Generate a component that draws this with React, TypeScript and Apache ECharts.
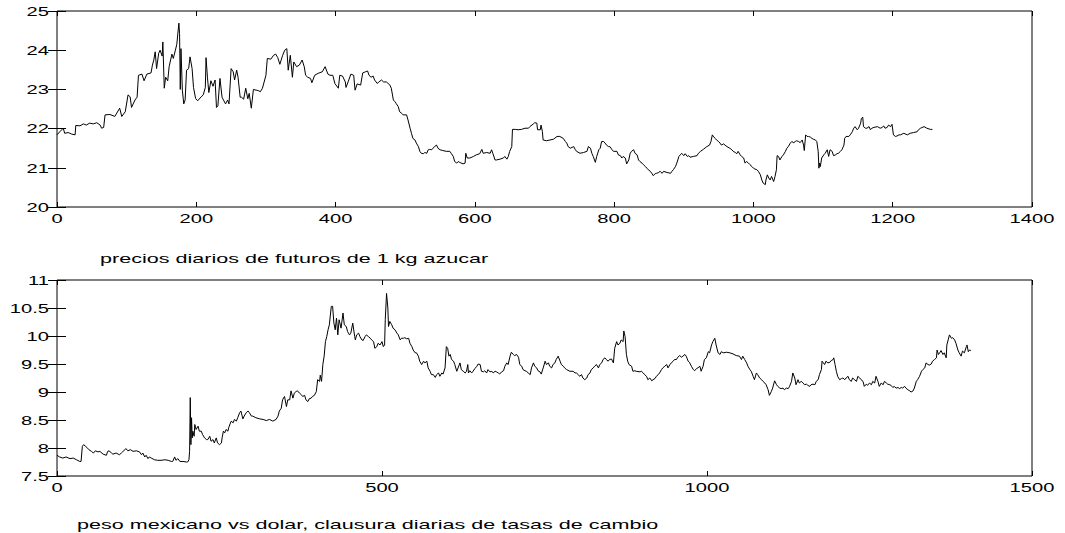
import React, { useEffect, useRef } from "react";
import * as echarts from "echarts";

// Daily sugar futures price (1 kg), by trading day
const sugarDays = [
  0, 4, 9, 11, 16, 21, 26, 27, 33, 38, 42, 47, 52, 57, 62, 64, 67, 69, 76, 83, 90, 93, 98, 102, 105, 107, 112, 115, 117, 122,
  125, 129, 135, 137, 139, 141, 143, 146, 148, 151, 152, 154, 156, 159, 161, 165, 167, 170, 172, 175, 176, 177, 178, 180, 182,
  184, 186, 189, 191, 194, 196, 199, 202, 207, 210, 213, 214, 216, 218, 221, 224, 227, 229, 231, 234, 237, 239, 242, 245, 247,
  250, 253, 255, 258, 260, 263, 265, 268, 271, 274, 276, 279, 282, 286, 289, 292, 295, 300, 302, 307, 311, 314, 317, 320, 324,
  327, 330, 332, 335, 338, 340, 344, 348, 352, 355, 357, 360, 364, 366, 370, 375, 381, 385, 389, 392, 396, 399, 404, 406, 410,
  414, 415, 418, 422, 426, 428, 431, 436, 439, 443, 446, 448, 451, 454, 456, 460, 462, 466, 469, 473, 478, 480, 483, 485, 487,
  490, 492, 495, 497, 502, 504, 507, 509, 511, 514, 516, 519, 521, 523, 526, 528, 531, 533, 535, 538, 540, 542, 545, 547, 550,
  554, 559, 564, 566, 569, 571, 574, 576, 578, 583, 586, 587, 589, 593, 598, 602, 607, 610, 612, 617, 622, 624, 626, 629, 631,
  636, 641, 643, 646, 648, 650, 653, 654, 658, 662, 667, 672, 677, 679, 684, 686, 689, 690, 694, 695, 697, 698, 703, 708, 713,
  718, 722, 727, 730, 732, 734, 737, 742, 744, 746, 751, 756, 761, 763, 766, 768, 770, 773, 775, 778, 780, 782, 785, 787, 789,
  792, 794, 797, 799, 804, 806, 809, 811, 813, 816, 818, 821, 823, 825, 828, 830, 833, 835, 837, 840, 842, 845, 847, 849, 852,
  854, 856, 859, 861, 864, 866, 869, 871, 876, 881, 883, 885, 888, 890, 893, 895, 897, 900, 902, 905, 907, 909, 914, 919, 921,
  924, 928, 933, 937, 939, 941, 942, 945, 947, 950, 952, 954, 957, 962, 966, 969, 971, 974, 976, 978, 981, 983, 986, 988, 990,
  993, 995, 998, 1000, 1002, 1005, 1007, 1010, 1012, 1014, 1017, 1018, 1020, 1022, 1024, 1026, 1029, 1031, 1033, 1034, 1036,
  1038, 1041, 1043, 1046, 1048, 1050, 1053, 1055, 1058, 1060, 1062, 1065, 1067, 1070, 1072, 1073, 1075, 1077, 1079, 1082, 1084,
  1086, 1089, 1091, 1093, 1094, 1095, 1096, 1098, 1101, 1103, 1106, 1108, 1110, 1113, 1115, 1118, 1120, 1122, 1125, 1127, 1130,
  1131, 1133, 1137, 1139, 1142, 1144, 1146, 1149, 1151, 1154, 1155, 1157, 1158, 1161, 1163, 1166, 1168, 1170, 1173, 1178, 1182,
  1185, 1187, 1189, 1192, 1194, 1197, 1199, 1201, 1204, 1206, 1209, 1211, 1216, 1221, 1225, 1230, 1235, 1237, 1240, 1245, 1249,
  1254, 1257,
];
const sugarPrices = [
  21.84, 21.92, 22.01, 21.88, 21.9, 21.86, 21.84, 22.08, 22.07, 22.12, 22.09, 22.14, 22.12, 22.15, 22.09, 22.01, 22.03, 22.35,
  22.36, 22.31, 22.52, 22.31, 22.43, 22.86, 22.81, 22.54, 22.73, 22.8, 23.36, 23.39, 23.22, 23.39, 23.42, 23.62, 23.75, 23.96,
  23.53, 23.92, 24.0, 23.85, 24.21, 23.03, 23.31, 23.22, 23.58, 23.9, 23.79, 24.0, 24.15, 24.69, 24.42, 23.0, 24.04, 22.98,
  22.63, 22.73, 23.49, 23.53, 23.83, 23.53, 23.05, 22.77, 22.71, 22.81, 22.86, 23.05, 23.81, 23.31, 22.92, 23.22, 23.08, 23.24,
  22.54, 22.58, 23.28, 22.8, 22.73, 22.63, 22.73, 22.63, 23.53, 23.45, 23.24, 23.49, 23.31, 22.8, 22.8, 22.75, 23.03, 22.76,
  22.9, 22.52, 23.0, 22.98, 22.97, 22.94, 23.03, 23.36, 23.79, 23.77, 23.87, 23.9, 23.81, 23.64, 23.87, 24.0, 24.04, 23.49,
  23.87, 23.31, 23.7, 23.58, 23.62, 23.75, 23.58, 23.36, 23.31, 23.28, 23.17, 23.36, 23.41, 23.45, 23.58, 23.39, 23.36, 23.36,
  23.15, 23.03, 23.36, 23.34, 23.19, 23.05, 23.19, 23.39, 23.36, 22.98, 23.14, 23.11, 23.42, 23.45, 23.47, 23.36, 23.31, 23.34,
  23.24, 23.15, 23.19, 23.24, 23.19, 23.19, 23.11, 23.03, 22.73, 22.69, 22.64, 22.56, 22.43, 22.39, 22.35, 22.35, 22.22, 22.01,
  21.88, 21.75, 21.71, 21.63, 21.54, 21.42, 21.37, 21.36, 21.39, 21.37, 21.46, 21.47, 21.46, 21.5, 21.54, 21.58, 21.5, 21.46,
  21.44, 21.42, 21.42, 21.37, 21.29, 21.16, 21.12, 21.16, 21.14, 21.1, 21.12, 21.37, 21.25, 21.25, 21.29, 21.33, 21.36, 21.47,
  21.37, 21.39, 21.37, 21.46, 21.36, 21.2, 21.2, 21.22, 21.25, 21.29, 21.22, 21.29, 21.42, 21.54, 21.98, 21.98, 21.97, 21.98,
  22.01, 22.01, 22.05, 22.12, 22.15, 22.14, 21.97, 21.97, 22.09, 21.92, 21.71, 21.69, 21.71, 21.73, 21.8, 21.8, 21.75, 21.67,
  21.63, 21.54, 21.5, 21.54, 21.47, 21.42, 21.37, 21.39, 21.42, 21.54, 21.5, 21.37, 21.29, 21.14, 21.29, 21.46, 21.5, 21.67,
  21.67, 21.63, 21.58, 21.54, 21.54, 21.46, 21.42, 21.42, 21.33, 21.31, 21.25, 21.29, 21.25, 21.1, 21.2, 21.37, 21.42, 21.46,
  21.37, 21.33, 21.2, 21.16, 21.12, 21.08, 21.03, 20.99, 20.95, 20.91, 20.86, 20.8, 20.85, 20.86, 20.88, 20.91, 20.86, 20.91,
  20.88, 20.86, 20.91, 20.95, 21.03, 21.12, 21.29, 21.33, 21.37, 21.31, 21.36, 21.29, 21.31, 21.27, 21.29, 21.31, 21.37, 21.42,
  21.47, 21.54, 21.58, 21.67, 21.84, 21.81, 21.75, 21.71, 21.67, 21.63, 21.58, 21.61, 21.54, 21.5, 21.46, 21.42, 21.39, 21.36,
  21.42, 21.33, 21.29, 21.25, 21.12, 21.16, 21.12, 21.08, 21.03, 20.99, 20.97, 20.95, 20.91, 20.82, 20.69, 20.61, 20.57, 20.69,
  20.82, 20.74, 20.69, 20.78, 20.65, 20.78, 20.95, 21.31, 21.29, 21.2, 21.29, 21.33, 21.42, 21.5, 21.54, 21.63, 21.67, 21.64,
  21.67, 21.69, 21.67, 21.64, 21.71, 21.58, 21.44, 21.84, 21.8, 21.8, 21.78, 21.75, 21.73, 21.71, 21.67, 21.42, 20.99, 21.12,
  21.03, 21.25, 21.33, 21.37, 21.46, 21.29, 21.46, 21.42, 21.31, 21.33, 21.36, 21.37, 21.42, 21.46, 21.58, 21.75, 21.8, 21.8,
  21.84, 21.92, 22.01, 22.05, 21.97, 22.01, 22.14, 22.26, 22.29, 22.05, 22.01, 22.01, 22.05, 21.97, 22.01, 22.03, 22.05, 22.01,
  22.03, 22.07, 22.01, 22.03, 22.09, 22.05, 22.11, 21.84, 21.8, 21.81, 21.84, 21.84, 21.88, 21.84, 21.88, 21.9, 21.92, 21.97,
  22.01, 22.05, 22.01, 21.98, 21.98,
];

// Daily closing exchange rate, Mexican peso per US dollar
const pesoDays = [
  0, 4, 9, 14, 20, 25, 30, 35, 37, 39, 41, 44, 46, 49, 53, 56, 59, 63, 66, 71, 76, 78, 80, 84, 86, 91, 96, 99, 101, 106, 109,
  113, 117, 122, 127, 130, 132, 135, 137, 140, 142, 145, 150, 155, 160, 166, 171, 176, 178, 181, 183, 186, 189, 194, 199, 201,
  203, 204, 205, 206, 207, 208, 209, 211, 212, 214, 217, 219, 222, 224, 227, 230, 232, 235, 237, 240, 242, 245, 247, 250, 253,
  254, 256, 258, 260, 263, 264, 268, 271, 273, 276, 278, 281, 283, 286, 288, 291, 294, 296, 299, 301, 306, 312, 317, 322, 327,
  332, 337, 340, 342, 345, 347, 350, 353, 355, 358, 360, 363, 365, 368, 370, 373, 376, 378, 381, 383, 386, 388, 391, 393, 396,
  399, 401, 404, 405, 407, 409, 411, 413, 415, 417, 419, 422, 424, 426, 428, 430, 432, 434, 437, 440, 442, 445, 447, 450, 452,
  455, 458, 459, 461, 464, 466, 469, 471, 474, 476, 479, 482, 484, 487, 489, 492, 494, 497, 500, 502, 504, 505, 507, 509, 510,
  512, 515, 517, 520, 523, 525, 528, 530, 533, 535, 538, 541, 543, 546, 548, 551, 553, 556, 558, 561, 564, 566, 569, 571, 574,
  576, 579, 582, 584, 587, 589, 592, 594, 597, 599, 601, 603, 605, 607, 610, 612, 615, 617, 620, 622, 625, 628, 630, 632, 633,
  635, 638, 640, 643, 646, 648, 651, 653, 656, 658, 661, 663, 666, 669, 671, 674, 676, 679, 681, 684, 687, 689, 692, 694, 697,
  699, 702, 704, 707, 710, 712, 715, 717, 720, 722, 725, 728, 730, 733, 735, 738, 740, 743, 745, 748, 751, 753, 756, 758, 761,
  763, 766, 768, 771, 774, 776, 779, 781, 784, 789, 794, 797, 799, 802, 804, 807, 809, 812, 815, 817, 820, 822, 825, 827, 830,
  833, 835, 838, 840, 843, 845, 848, 850, 853, 856, 858, 861, 863, 866, 868, 871, 872, 874, 876, 878, 880, 884, 886, 889, 891,
  897, 899, 902, 904, 907, 909, 912, 915, 917, 920, 922, 925, 927, 930, 932, 935, 938, 940, 943, 945, 948, 950, 953, 955, 958,
  961, 963, 966, 968, 971, 973, 976, 979, 981, 984, 986, 989, 991, 994, 996, 999, 1002, 1004, 1007, 1009, 1012, 1014, 1017,
  1020, 1022, 1025, 1030, 1035, 1040, 1045, 1050, 1053, 1055, 1058, 1061, 1063, 1066, 1068, 1071, 1073, 1076, 1078, 1081, 1084,
  1086, 1089, 1091, 1094, 1096, 1099, 1101, 1104, 1107, 1109, 1112, 1114, 1117, 1119, 1122, 1125, 1127, 1130, 1132, 1135, 1137,
  1140, 1142, 1145, 1148, 1150, 1153, 1155, 1158, 1160, 1163, 1166, 1168, 1171, 1173, 1176, 1177, 1179, 1181, 1183, 1186, 1189,
  1191, 1194, 1195, 1197, 1199, 1201, 1204, 1207, 1209, 1212, 1214, 1217, 1219, 1222, 1224, 1227, 1230, 1232, 1235, 1237, 1240,
  1242, 1245, 1247, 1250, 1253, 1255, 1258, 1260, 1263, 1265, 1268, 1271, 1273, 1276, 1278, 1281, 1283, 1286, 1288, 1291, 1294,
  1296, 1299, 1301, 1304, 1306, 1309, 1312, 1314, 1317, 1319, 1322, 1324, 1327, 1330, 1332, 1335, 1337, 1340, 1342, 1345, 1347,
  1350, 1353, 1354, 1356, 1358, 1360, 1363, 1365, 1368, 1369, 1371, 1373, 1376, 1378, 1381, 1383, 1386, 1388, 1391, 1393, 1396,
  1399, 1400, 1402, 1404, 1406,
];
const pesoRates = [
  7.87, 7.84, 7.82, 7.84, 7.81, 7.82, 7.79, 7.76, 7.76, 8.03, 8.06, 8.03, 8.01, 7.97, 7.94, 7.91, 7.95, 7.93, 7.94, 7.89, 7.87,
  7.94, 7.95, 7.91, 7.89, 7.91, 7.88, 7.91, 7.93, 7.99, 7.95, 7.97, 7.94, 7.95, 7.93, 7.88, 7.91, 7.84, 7.87, 7.81, 7.84, 7.82,
  7.79, 7.78, 7.78, 7.79, 7.78, 7.76, 7.76, 7.84, 7.78, 7.81, 7.76, 7.76, 7.75, 7.75, 7.79, 7.94, 8.9, 8.06, 8.54, 8.18, 8.3,
  8.21, 8.42, 8.33, 8.39, 8.3, 8.3, 8.24, 8.18, 8.15, 8.15, 8.21, 8.12, 8.15, 8.09, 8.18, 8.09, 8.06, 8.09, 8.18, 8.3, 8.27,
  8.33, 8.3, 8.36, 8.48, 8.45, 8.51, 8.48, 8.54, 8.63, 8.66, 8.52, 8.57, 8.63, 8.66, 8.63, 8.57, 8.57, 8.54, 8.52, 8.51, 8.49,
  8.51, 8.48, 8.51, 8.57, 8.66, 8.71, 8.86, 8.92, 8.74, 8.86, 8.86, 9.02, 8.89, 8.98, 9.01, 9.02, 8.98, 8.95, 8.92, 8.94, 8.86,
  8.83, 8.88, 8.89, 8.92, 8.94, 9.01, 9.22, 9.19, 9.3, 9.19, 9.49, 9.64, 9.9, 9.99, 10.11, 10.2, 10.53, 10.53, 10.23, 10.11,
  10.32, 10.02, 10.29, 10.14, 10.41, 10.2, 10.17, 10.08, 10.02, 10.05, 10.23, 9.99, 9.93, 10.02, 10.05, 9.99, 9.93, 9.92, 9.99,
  10.02, 9.99, 9.96, 9.93, 9.9, 9.78, 9.81, 9.87, 9.84, 9.9, 9.81, 9.84, 10.29, 10.76, 10.5, 10.17, 10.26, 10.2, 10.14, 10.11,
  10.05, 10.02, 9.93, 9.96, 9.96, 9.97, 9.95, 9.96, 9.87, 9.81, 9.75, 9.7, 9.7, 9.64, 9.55, 9.49, 9.55, 9.52, 9.55, 9.43, 9.37,
  9.31, 9.31, 9.26, 9.31, 9.34, 9.28, 9.34, 9.32, 9.43, 9.81, 9.78, 9.64, 9.67, 9.58, 9.55, 9.49, 9.37, 9.43, 9.52, 9.4, 9.37,
  9.34, 9.37, 9.49, 9.34, 9.38, 9.34, 9.37, 9.42, 9.46, 9.5, 9.49, 9.37, 9.36, 9.38, 9.34, 9.4, 9.36, 9.37, 9.34, 9.37, 9.36,
  9.34, 9.32, 9.36, 9.38, 9.46, 9.52, 9.49, 9.64, 9.71, 9.67, 9.65, 9.67, 9.62, 9.49, 9.46, 9.4, 9.38, 9.37, 9.34, 9.31, 9.43,
  9.52, 9.46, 9.43, 9.38, 9.36, 9.32, 9.43, 9.55, 9.49, 9.52, 9.46, 9.43, 9.49, 9.52, 9.58, 9.64, 9.55, 9.49, 9.46, 9.43, 9.4,
  9.37, 9.37, 9.34, 9.34, 9.31, 9.28, 9.31, 9.25, 9.22, 9.25, 9.31, 9.34, 9.4, 9.43, 9.46, 9.49, 9.43, 9.49, 9.52, 9.58, 9.61,
  9.58, 9.55, 9.58, 9.59, 9.52, 9.78, 9.9, 9.84, 9.87, 9.93, 9.9, 10.09, 9.99, 9.67, 9.55, 9.49, 9.46, 9.37, 9.38, 9.37, 9.36,
  9.37, 9.34, 9.31, 9.28, 9.22, 9.25, 9.2, 9.22, 9.24, 9.28, 9.31, 9.34, 9.4, 9.43, 9.46, 9.49, 9.43, 9.49, 9.52, 9.55, 9.58,
  9.58, 9.62, 9.65, 9.62, 9.64, 9.67, 9.64, 9.55, 9.53, 9.46, 9.4, 9.38, 9.42, 9.43, 9.46, 9.37, 9.46, 9.58, 9.61, 9.72, 9.7,
  9.84, 9.9, 9.96, 9.84, 9.7, 9.67, 9.72, 9.7, 9.71, 9.7, 9.68, 9.65, 9.64, 9.58, 9.64, 9.58, 9.52, 9.46, 9.4, 9.37, 9.28, 9.22,
  9.34, 9.31, 9.25, 9.22, 9.19, 9.16, 9.13, 9.04, 8.94, 9.01, 9.07, 9.2, 9.13, 9.1, 9.07, 9.06, 9.07, 9.04, 9.07, 9.06, 9.1,
  9.19, 9.34, 9.25, 9.13, 9.22, 9.16, 9.19, 9.16, 9.13, 9.14, 9.12, 9.1, 9.13, 9.14, 9.13, 9.19, 9.22, 9.31, 9.4, 9.55, 9.52,
  9.49, 9.55, 9.52, 9.53, 9.56, 9.58, 9.61, 9.49, 9.37, 9.28, 9.22, 9.24, 9.25, 9.22, 9.25, 9.28, 9.22, 9.19, 9.25, 9.22, 9.19,
  9.28, 9.25, 9.22, 9.19, 9.1, 9.14, 9.12, 9.16, 9.13, 9.19, 9.16, 9.28, 9.19, 9.1, 9.16, 9.13, 9.19, 9.16, 9.14, 9.13, 9.12,
  9.08, 9.1, 9.07, 9.08, 9.06, 9.08, 9.07, 9.1, 9.07, 9.04, 9.02, 9.0, 9.02, 9.07, 9.19, 9.22, 9.28, 9.37, 9.4, 9.43, 9.52,
  9.49, 9.48, 9.5, 9.55, 9.58, 9.61, 9.75, 9.67, 9.7, 9.74, 9.67, 9.7, 9.61, 9.84, 9.93, 10.02, 9.96, 9.97, 9.93, 9.87, 9.75,
  9.7, 9.64, 9.73, 9.7, 9.81, 9.84, 9.72, 9.75, 9.74,
];

// Axis tick values
const sugarDayTicks = [0, 200, 400, 600, 800, 1000, 1200, 1400];
const sugarPriceTicks = [20, 21, 22, 23, 24, 25];
const pesoDayTicks = [0, 500, 1000, 1500];
const pesoRateTicks = [7.5, 8, 8.5, 9, 9.5, 10, 10.5, 11];

const sugarCaption = "precios diarios de futuros de 1 kg azucar";
const pesoCaption = "peso mexicano vs dolar, clausura diarias de tasas de cambio";

const FONT = '13px "Liberation Sans", Arial, sans-serif';
const LABEL_STRETCH = 1.55;
const CAPTION_STRETCH = 1.66;

function zip(xs: number[], ys: number[]) {
  return xs.map((x, i) => [x, ys[i]]);
}

function valueAxis(gridIndex: number, position: string, min: number, max: number, interval: number, tickLen: number) {
  return {
    type: "value",
    gridIndex,
    position,
    min,
    max,
    interval,
    axisLine: { show: false },
    axisTick: { show: true, inside: true, length: tickLen, lineStyle: { color: "#000", width: 1 } },
    axisLabel: { show: false },
    splitLine: { show: false },
  };
}

export default function App() {
  const ref = useRef<HTMLDivElement>(null);

  useEffect(() => {
    if (!ref.current) return;
    const chart = echarts.init(ref.current, null, { renderer: "svg" });

    const gridBox = {
      show: true,
      borderColor: "#000",
      borderWidth: 1,
      backgroundColor: "transparent",
      containLabel: false,
    };

    chart.setOption({
      animation: false,
      backgroundColor: "#fff",
      grid: [
        { ...gridBox, left: 57, top: 11, width: 975, height: 196 },
        { ...gridBox, left: 57, top: 280, width: 975, height: 196 },
      ],
      xAxis: [
        valueAxis(0, "bottom", 0, 1400, 200, 5),
        valueAxis(0, "top", 0, 1400, 200, 5),
        valueAxis(1, "bottom", 0, 1500, 500, 5),
        valueAxis(1, "top", 0, 1500, 500, 5),
      ],
      yAxis: [
        valueAxis(0, "left", 20, 25, 1, 9),
        valueAxis(0, "right", 20, 25, 1, 9),
        valueAxis(1, "left", 7.5, 11, 0.5, 9),
        valueAxis(1, "right", 7.5, 11, 0.5, 9),
      ],
      series: [
        {
          type: "line",
          xAxisIndex: 0,
          yAxisIndex: 0,
          data: zip(sugarDays, sugarPrices),
          showSymbol: false,
          symbol: "none",
          silent: true,
          lineStyle: { color: "#000", width: 1 },
        },
        {
          type: "line",
          xAxisIndex: 2,
          yAxisIndex: 2,
          data: zip(pesoDays, pesoRates),
          showSymbol: false,
          symbol: "none",
          silent: true,
          lineStyle: { color: "#000", width: 1 },
        },
      ],
    });

    // Tick labels and captions are drawn in a horizontally widened face.
    const texts: any[] = [];
    const label = (x: number, y: number, text: string, align: string, stretch: number) => ({
      type: "text",
      x,
      y,
      scaleX: stretch,
      silent: true,
      style: { text, font: FONT, fill: "#000", textAlign: align, textVerticalAlign: "middle" },
    });

    const addTicks = (gridIndex: number, xTicks: number[], yTicks: number[], yMin: number, xMin: number) => {
      xTicks.forEach((v) => {
        const p = chart.convertToPixel({ gridIndex }, [v, yMin]) as number[];
        texts.push(label(p[0], p[1] + 11.5, String(v), "center", LABEL_STRETCH));
      });
      yTicks.forEach((v) => {
        const p = chart.convertToPixel({ gridIndex }, [xMin, v]) as number[];
        texts.push(label(p[0] - 8, p[1] + 0.5, String(v), "right", LABEL_STRETCH));
      });
    };
    addTicks(0, sugarDayTicks, sugarPriceTicks, 20, 0);
    addTicks(1, pesoDayTicks, pesoRateTicks, 7.5, 0);

    texts.push(label(100, 258.5, sugarCaption, "left", CAPTION_STRETCH));
    texts.push(label(77, 525, pesoCaption, "left", CAPTION_STRETCH));

    chart.setOption({ graphic: texts });

    return () => chart.dispose();
  }, []);

  return (
    <div
      ref={ref}
      style={{ position: "fixed", left: 0, top: 0, width: 1065, height: 533, background: "#fff" }}
    />
  );
}
